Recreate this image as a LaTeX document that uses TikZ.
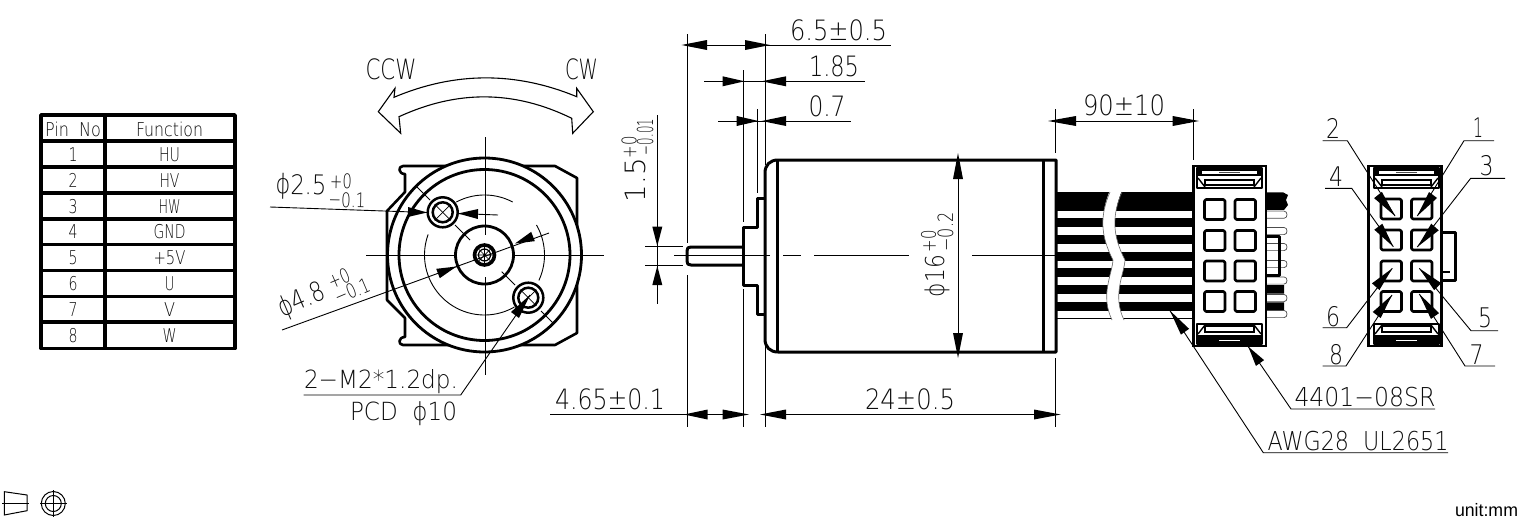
\documentclass[tikz,border=0pt]{standalone}
\usepackage{fontspec}
\setmainfont{DejaVu Sans ExtraLight}
\newfontfamily\unitf{Liberation Sans}
\usetikzlibrary{calc}
\definecolor{txtc}{gray}{0.05}
\tikzset{
  thinl/.style={line width=0.9pt,black},
  thickl/.style={line width=3pt,black,line join=round},
  midl/.style={line width=2.3pt,black,line join=round},
  lbl/.style={inner sep=0pt,outer sep=0pt,text=txtc}
}
% [options], name, x, y, width, size, text
\newcommand\T[7][]{\node[lbl,#1] (#2) at (#3,#4) {\fontsize{#6}{#6}\selectfont\resizebox{#5pt}{\height}{#7}};}
\newcommand\ah[2]{\fill[black] (#2) -- ($(#1)!5pt!90:(#2)$) -- ($(#1)!5pt!-90:(#2)$) -- cycle;}
\newcommand\tarc[2]{\draw[thinl] plot[domain=#1:#2,samples=40] ({484.5+60*cos(\x)},{255-60*sin(\x)});}
\newcommand\latchA{%
  \fill[black] (0,0) rectangle (65,8);
  \fill[white] (5,2.5) rectangle (60,6);
  \draw[line width=0.8pt,black!70] (22,4) -- (43,4);
  \draw[midl] (0,0) rectangle (65,20);
  \draw[line width=1.4pt] (8,12) rectangle (57,17);
  \draw[line width=1.4pt] (1,10) -- (8,19) (64,10) -- (57,19);
}
\newcommand\latchB{%
  \fill[black] (0,0) rectangle (65,9);
  \draw[white,line width=1pt] (22,4) -- (43,4);
  \draw[midl] (0,0) rectangle (65,20);
  \draw[line width=1.4pt] (8,12) rectangle (57,18);
  \draw[line width=1.4pt] (1,10) -- (8,19) (64,10) -- (57,19);
}
\newcommand\win[2]{\draw[line width=2.6pt,rounded corners=1.5pt,line join=round] (#1,#2) rectangle ++(20.5,20);}
\begin{document}
\begin{tikzpicture}[x=1pt,y=-1pt]
\useasboundingbox (0,0) rectangle (1524,528);
\fill[white] (0,0) rectangle (1524,528);

%%% table
\draw[line width=3.6pt,line join=round] (41,115) rectangle (235,348.5);
\draw[line width=3.6pt] (105,115) -- (105,348.5);
\foreach \yy in {141,167,192.8,218.7,244.6,270.4,296.3,322.2}
  \draw[line width=3.6pt] (41,\yy) -- (235,\yy);
\T{hA}{73}{129}{56}{19}{Pin\ \ No}
\T{hB}{169.5}{129}{67}{19}{Function}
\foreach \n/\f/\w [count=\i from 0] in {1/HU/21,2/HV/20,3/HW/22,4/GND/32,5/+5V/32,6/U/10,7/V/11,8/W/14}{
  \pgfmathsetmacro\yy{154.3+25.9*\i}
  \T{n\n}{73}{\yy}{9}{19}{\n}
  \T{f\n}{169.5}{\yy}{\w}{19}{\f}
}

%%% front view
\draw[midl,line width=2.6pt] (555,166) -- (403,166) .. controls (398,166) and (398,174) .. (405,174) -- (405,192) -- (387,211) -- (387,300) -- (405,318) -- (405,337) .. controls (398,337) and (398,345) .. (403,345) -- (555,345) -- (577,333) -- (577,178) -- cycle;
\draw[line width=2.8pt,fill=white] (484.5,255) circle[radius=97pt];
\draw[line width=2.8pt,fill=white] (484.5,255) circle[radius=85.5pt];
\tarc{118}{62}
\tarc{30}{-25}
\tarc{160}{300}
\draw[line width=2.8pt,fill=white] (484.5,255) circle[radius=29pt];
\draw[line width=3.6pt,fill=white] (484.5,255) circle[radius=10pt];
\draw[line width=1.2pt] (484.5,255) circle[radius=6pt];
\draw[line width=.7pt] (476,255) -- (493,255) (484.5,246.5) -- (484.5,263.5) (478.5,249) -- (490.5,261) (478.5,261) -- (490.5,249);
\foreach \c in {(442.7,212.3),(528.3,297.7)}{
  \draw[line width=2.5pt,fill=white] \c circle[radius=15pt];
  \draw[line width=2.5pt] \c circle[radius=10pt];
  \draw[line width=.7pt] \c ++(-8,-8) -- ++(16,16);
  \draw[line width=.7pt] \c ++(-8,8) -- ++(16,-16);
}
\draw[thinl] (416.7,186.7) -- (430,200) (455,225) -- (470,240);
\draw[thinl] (501.7,271.7) -- (515,285) (541,311) -- (553.3,323.3);
\draw[thinl] (366,255) -- (455,255) (513,255) -- (604,255);
\draw[thinl] (485,137) -- (485,235) (485,277) -- (485,375);

% dims in front view
\coordinate (a1t) at (427,212.5); \coordinate (a1b) at (408,212);
\coordinate (a2t) at (458,213.5); \coordinate (a2b) at (478,214);
\draw[thinl] (270,207) -- (a1t) (a2t) -- (498,215);
\ah{a1b}{a1t} \ah{a2b}{a2t}
\T[rotate=-1]{d25}{301}{187}{51}{27}{ϕ2.5}
\T[rotate=-1]{d25p}{341}{181}{22}{20}{+0}
\T[rotate=-1]{d25m}{347}{200}{37}{20}{−0.1}

\coordinate (b1t) at (456.5,266.5); \coordinate (b1b) at (438,273.5);
\coordinate (b2t) at (515,243.5); \coordinate (b2b) at (533,236.5);
\draw[thinl] (282,330) -- (549,233);
\ah{b1b}{b1t} \ah{b2b}{b2t}
\T[rotate=23]{d48}{302}{301}{49}{27}{ϕ4.8}
\T[rotate=23]{d48p}{339}{278}{22}{20}{+0}
\T[rotate=23]{d48m}{352}{291}{37}{20}{−0.1}

\coordinate (c1t) at (530,295); \coordinate (c1b) at (515,315); \coordinate (c0) at (460.7,395);
\draw[thinl] (303.5,395) -- (c0) -- (c1t);
\ah{c1b}{c1t}
\T{m2}{381}{382}{154}{25}{2−M2*1.2dp.}
\T{pcd}{403.5}{414}{107}{25}{PCD\ \ ϕ10}

%%% rotation arrow
\draw[line width=1.1pt,line join=miter] (378.3,111.7) -- (395,88.3) -- (394,97.3)
  .. controls (455,71.5) and (516,71.5) .. (576.7,96.7) -- (576.7,88.3) -- (593.3,111.7) -- (572.7,133.3) -- (571.7,118.3)
  .. controls (514,90) and (457,90) .. (399,116.7) -- (400.7,133.3) -- cycle;
\T{ccw}{391}{69}{51}{28}{CCW}
\T{cw}{581.5}{69}{33}{28}{CW}

%%% wires
\foreach \ya/\yb in {192.3/210.7,218/227,235/244,251.7/260.7,268/277,285/293.5,302.3/310.7}
  \fill[black] (1056,\ya) rectangle (1193,\yb);
\draw[thinl] (1056,318) -- (1193,318);
\fill[white] (1110,190) .. controls (1100,215) and (1100,235) .. (1113,260) .. controls (1112,275) and (1100,295) .. (1112,320)
  -- (1124,320) .. controls (1112,295) and (1124,275) .. (1125,260) .. controls (1112,235) and (1112,215) .. (1122,190) -- cycle;
\draw[line width=.6pt,black!60] (1110,192) .. controls (1100,215) and (1100,235) .. (1113,260) .. controls (1112,275) and (1100,295) .. (1112,320);
\draw[line width=.6pt,black!60] (1122,192) .. controls (1112,215) and (1112,235) .. (1125,260) .. controls (1124,275) and (1112,295) .. (1124,320);

%%% motor body
\draw[thickl] (1056,160) -- (778,160) .. controls (770,160) and (765,165) .. (765,173) -- (765,339) .. controls (765,347) and (770,352) .. (778,352) -- (1056,352) -- cycle;
\draw[thickl] (777.5,160) -- (777.5,352) (1043,160) -- (1043,352);
\draw[thickl] (765,198) -- (757.5,198) -- (757.5,227) -- (743.5,227) -- (743.5,285) -- (757.5,285) -- (757.5,314) -- (765,314);
\draw[thickl] (743.5,247) -- (691,247) .. controls (688,247) and (687,248) .. (687,251) -- (687,261) .. controls (687,264) and (688,265) .. (691,265) -- (743.5,265);
\draw[thinl] (674,255.5) -- (770,255.5) (783,255.5) -- (801,255.5) (814,255.5) -- (909,255.5) (972,255.5) -- (1056,255.5);

%%% extension lines
\draw[thinl] (687.3,34) -- (687.3,243) (687.3,275) -- (687.3,427);
\draw[thinl] (743.3,70) -- (743.3,222) (743.3,289) -- (743.3,427);
\draw[thinl] (757.3,109) -- (757.3,193);
\draw[thinl] (765.3,34) -- (765.3,165) (765.3,345) -- (765.3,427);
\draw[thinl] (1055.5,109) -- (1055.5,153) (1055.5,358) -- (1055.5,427);
\draw[thinl] (1193.3,109) -- (1193.3,160);

%%% top dimensions
\draw[thinl] (687,45) -- (890.5,45);
\ah{707,45}{681.5,45} \ah{745,45}{770,45}
\T{t65}{838.5}{30}{97}{28}{6.5±0.5}
\draw[thinl] (704,81.3) -- (865,81.3);
\ah{722.7,81.3}{744.5,81.3} \ah{786,81.3}{761.7,81.3}
\T{t185}{834}{66.5}{50}{28}{1.85}
\draw[thinl] (718,121) -- (850.7,121);
\ah{736.7,121}{758.5,121} \ah{786,121}{761.7,121}
\T{t07}{827}{106}{37}{28}{0.7}

%%% shaft dia
\draw[thinl] (657.3,115) -- (657.3,304);
\draw[thinl] (645,246) -- (683,246) (645,265.7) -- (683,265.7);
\ah{657.3,226.7}{657.3,246} \ah{657.3,285}{657.3,266}
\T[rotate=90]{t15}{635}{180}{44}{28}{1.5}
\T[rotate=90]{t15p}{629}{147}{22}{20}{+0}
\T[rotate=90]{t15m}{645}{137}{36}{22}{−0.01}

%%% body dia
\draw[thinl] (958,160) -- (958,352);
\ah{958,179}{958,153} \ah{958,333}{958,358}
\T[rotate=90]{t16}{937.5}{276}{42}{26}{ϕ16}
\T[rotate=90]{t16p}{928.5}{241}{22}{20}{+0}
\T[rotate=90]{t16m}{945.5}{232}{39}{21}{−0.2}

%%% bottom dimensions
\draw[thinl] (550,414.5) -- (707,414.5) (707,414.5) -- (723,414.5) (786,414.5) -- (1034,414.5);
\ah{707.7,414.5}{684,414.5} \ah{722.7,414.5}{749,414.5} \ah{786,414.5}{760,414.5} \ah{1034,414.5}{1060.7,414.5}
\T{t465}{610}{399.5}{110}{28}{4.65±0.1}
\T{t24}{910}{399.5}{90}{28}{24±0.5}

%%% 90
\draw[thinl] (1076,121) -- (1173,121);
\ah{1076,121}{1048,121} \ah{1172.7,121}{1199,121}
\T{t90}{1124}{105.5}{82}{28}{90±10}

%%% connector, side view
\fill[black] (1260,192.3) -- (1283,192.3) -- (1288,195) -- (1286,200) -- (1288,205) -- (1284,210) -- (1260,210) -- cycle;
\fill[black] (1260,285) rectangle (1284,293.5) (1260,302.3) rectangle (1284,310.7);
\foreach \yy in {214.7,231,247,264,280.5,298,314}
  \draw[line width=.7pt,black!70,fill=white] (1266,\yy-3.6) -- (1284,\yy-3.6) .. controls (1288,\yy-3.6) and (1288,\yy+3.6) .. (1284,\yy+3.6) -- (1266,\yy+3.6);
\draw[line width=2.6pt,fill=white] (1193.5,166) rectangle (1266,346);
\draw[thickl] (1266,236.5) -- (1279,236.5) -- (1279,275) -- (1266,275);
\begin{scope}[shift={(1197,168)}] \latchA \end{scope}
\begin{scope}[shift={(1197,344)},yscale=-1] \latchB \end{scope}
\foreach \xx in {1204.5,1235}
  \foreach \yy in {199.5,230.5,261,291.5} { \win{\xx}{\yy} }

%%% leaders to side connector
\coordinate (lA) at (1263.3,452.7); \coordinate (lAt) at (1170,310.7);
\draw[thinl] (1448,452.7) -- (lA) -- (lAt);
\ah{1185,331.7}{lAt}
\T{awg}{1358}{440.7}{181}{26}{AWG28\ \ UL2651}
\coordinate (lB) at (1291,409); \coordinate (lBt) at (1248.3,346.7);
\draw[thinl] (1435,409) -- (lB) -- (lBt);
\ah{1260,363}{lBt}
\T{s44}{1365}{396.7}{141}{26}{4401−08SR}

%%% connector, end view
\draw[thickl] (1441.5,232.7) -- (1455,232.7) -- (1455,280) -- (1441.5,280);
\draw[line width=1.4pt] (1441.5,272) -- (1450,272);
\draw[line width=2.6pt,fill=white] (1368.5,166) rectangle (1441.5,346);
\begin{scope}[shift={(1374,168)}] \latchA \end{scope}
\begin{scope}[shift={(1374,344)},yscale=-1] \latchB \end{scope}
\foreach \xx in {1381,1411.5}
  \foreach \yy in {199,230,261,291.5} { \win{\xx}{\yy} }

\newcommand\pinlead[7]{%
  \coordinate (p#1u) at (#2,#4); \coordinate (p#1e) at (#3,#4); \coordinate (p#1t) at (#5,#6);
  \draw[thinl] (p#1u) -- (p#1e) -- (p#1t);
  \ah{#7}{p#1t}}
\pinlead{2}{1322.7}{1347.3}{140.7}{1395}{216}{1378,195}
\pinlead{1}{1494}{1464}{140.7}{1417.3}{216}{1433,195}
\pinlead{3}{1505}{1470.7}{178.3}{1417.3}{247}{1435,227}
\pinlead{4}{1325}{1351.7}{188.3}{1393.3}{246.7}{1378.3,226.7}
\pinlead{5}{1498}{1471}{330.7}{1419.3}{268.3}{1437.7,286.7}
\pinlead{6}{1322.7}{1346.7}{327.7}{1392.3}{268.3}{1375.7,286.7}
\pinlead{7}{1495}{1465}{366}{1419.3}{294}{1435,316}
\pinlead{8}{1322.7}{1346}{366}{1392}{295}{1376.7,315}
\T{k1}{1478}{128}{10}{27}{1}
\T{k2}{1333}{128}{14}{27}{2}
\T{k3}{1486.7}{166}{14}{27}{3}
\T{k4}{1336}{176.7}{14}{27}{4}
\T{k5}{1485}{318}{14}{27}{5}
\T{k6}{1333}{316.7}{14}{27}{6}
\T{k7}{1476.7}{355}{14}{27}{7}
\T{k8}{1336}{355}{14}{27}{8}

%%% symbols
\draw[line width=1pt] (4.3,491.7) -- (27,495) -- (27,510.7) -- (4.3,515) -- cycle;
\draw[line width=.9pt] (2,503.5) -- (29,503.5);
\draw[line width=1pt] (53.3,503.5) circle[radius=12pt] circle[radius=8pt];
\draw[line width=.9pt] (40,503.5) -- (66.6,503.5) (53.3,490) -- (53.3,517);
\node[lbl,text=black] (unit) at (1486.5,510) {\unitf\fontsize{18}{18}\selectfont\resizebox{63pt}{\height}{unit:mm}};
\end{tikzpicture}
\end{document}
